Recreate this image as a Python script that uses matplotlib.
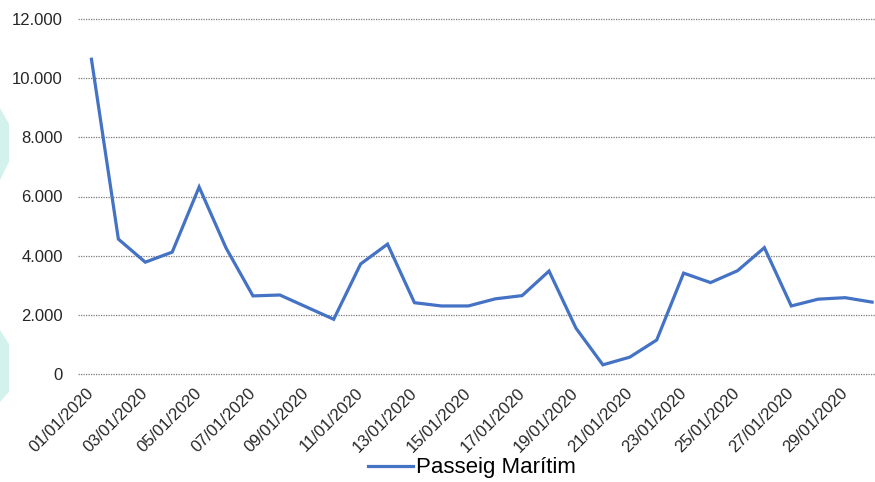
import matplotlib
matplotlib.use("Agg")
import matplotlib.pyplot as plt
from matplotlib.patches import Polygon
from matplotlib.ticker import FuncFormatter

plt.rcParams['font.family'] = ['Liberation Sans', 'DejaVu Sans']

# daily values, January 2020
dates = ["%02d/01/2020" % d for d in range(1, 31)]
values = [10640, 4560, 3780, 4120, 6320, 4260, 2640, 2670, 2260, 1850,
          3720, 4390, 2410, 2300, 2300, 2540, 2650, 3480, 1550, 310,
          570, 1150, 3410, 3090, 3490, 4270, 2300, 2530, 2580, 2430]
series_name = "Passeig Marítim"

W, H = 875, 482
fig = plt.figure(figsize=(W / 100, H / 100), dpi=100)

# light cyan decorations at the left edge (slide background)
def px(pts):
    return [(x / W, 1 - y / H) for x, y in pts]

for shape in ([(0, 108), (9, 124), (9, 162), (0, 180)],
              [(0, 330), (9, 344), (9, 392), (0, 402)]):
    fig.patches.append(Polygon(px(shape), closed=True, transform=fig.transFigure,
                               facecolor="#d3f2ee", edgecolor="none", zorder=0))

left, right, top, bottom = 78, 885.5, 19, 374
ax = fig.add_axes([left / W, 1 - bottom / H, (right - left) / W, (bottom - top) / H])
ax.patch.set_alpha(0)

x = list(range(len(values)))
ax.plot(x, values, color="#4472C4", lw=2.3, solid_joinstyle="miter", zorder=3,
        label=series_name)

ax.set_xlim(-0.5, len(values) - 0.5)
ax.set_ylim(0, 12000)
ax.set_yticks(range(0, 12001, 2000))
ax.yaxis.set_major_formatter(FuncFormatter(lambda v, p: f"{int(v):,}".replace(",", ".")))
ax.grid(axis="y", color="#7a7a7a", lw=0.9, linestyle=(0, (1, 1)))
for gl in ax.get_ygridlines():
    gl.set_clip_on(False)
ax.set_axisbelow(True)
for s in ax.spines.values():
    s.set_visible(False)

ax.set_xticks(x[::2])
ax.set_xticklabels(dates[::2], rotation=45, ha="right", va="center",
                   rotation_mode="anchor", fontsize=12, color="#262626")
ax.tick_params(axis="x", length=0, pad=12)
ax.tick_params(axis="y", length=0, pad=11, labelsize=12, labelcolor="#262626")

fig.legend(loc="center", bbox_to_anchor=(472 / W, 1 - 468 / H), frameon=False,
           fontsize=16, handlelength=2.0, handletextpad=0.15)

fig.savefig("out.png", dpi=100)
